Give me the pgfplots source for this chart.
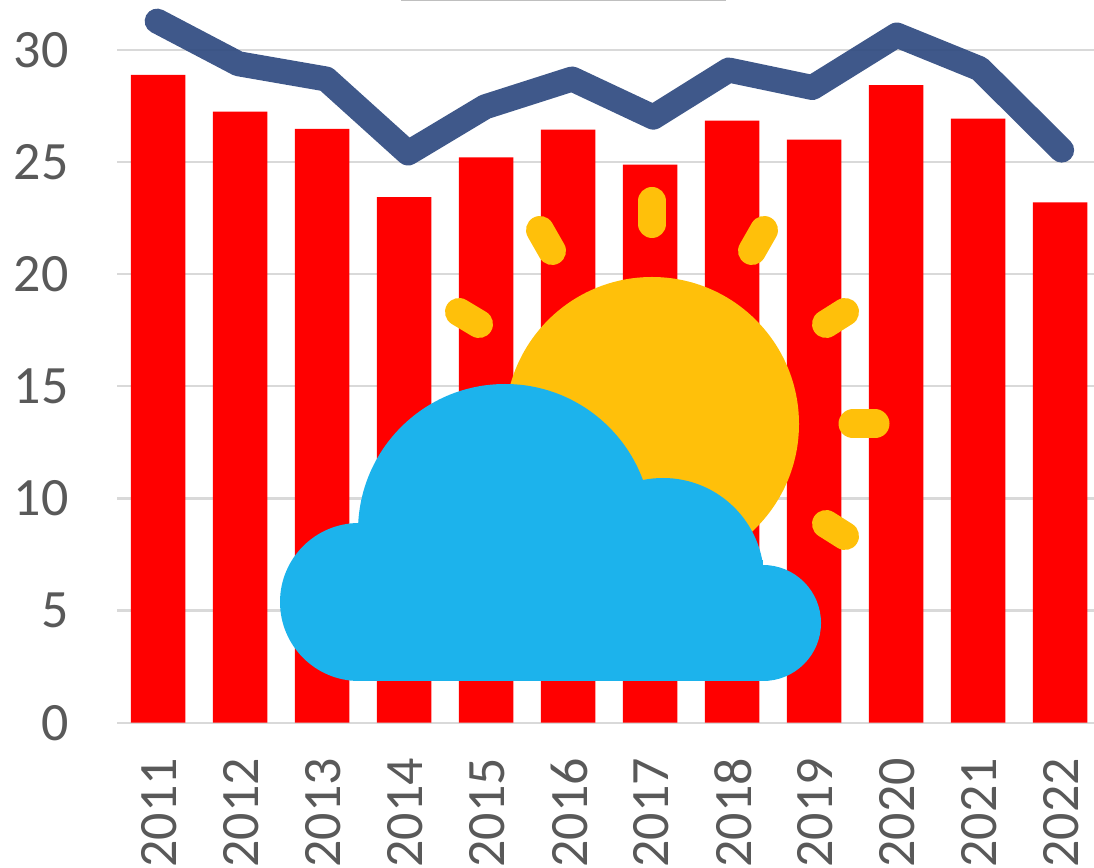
\documentclass[border=0pt]{standalone}
\usepackage{pgfplots}
\pgfplotsset{compat=1.18}
\usepackage{fontspec}
\setmainfont{Carlito}
\definecolor{ticktext}{HTML}{595959}
\definecolor{gridc}{HTML}{D9D9D9}
\definecolor{linec}{HTML}{2F4A80}
\definecolor{sun}{HTML}{FFC00A}
\definecolor{cloud}{HTML}{1CB3EC}
\begin{document}
\begin{tikzpicture}
\path[use as bounding box,clip] (0,0) rectangle (1094pt,867pt);
\begin{axis}[
  at={(117pt,144.3pt)}, anchor=south west,
  scale only axis, width=984pt, height=722.2pt,
  xmin=-0.5, xmax=11.5, ymin=0, ymax=32.2,
  clip=false,
  axis x line=bottom, axis y line=left,
  axis line style={-, draw=gridc, line width=2.2pt},
  y axis line style={draw=none},
  xtick={0,...,11},
  xticklabels={2011,2012,2013,2014,2015,2016,2017,2018,2019,2020,2021,2022},
  ytick={0,5,10,15,20,25,30},
  major tick length=0pt,
  ymajorgrids,
  grid style={draw=gridc, line width=2.2pt},
  tick label style={font=\fontsize{54}{60}\selectfont, text=ticktext},
  /pgf/number format/assume math mode=true,
  yticklabel style={anchor=east, xshift=-45pt},
  xticklabel style={rotate=90, anchor=east, xshift=-32pt, yshift=-1pt},
]
\addplot[ybar, bar width=54.5pt, fill=red, draw=none] coordinates {
 (0,28.88) (1,27.24) (2,26.48) (3,23.43) (4,25.2) (5,26.44)
 (6,24.88) (7,26.84) (8,26.0) (9,28.43) (10,26.93) (11,23.2)};
\addplot[sharp plot, color=linec, opacity=0.92, line width=25pt, line cap=round, line join=round] coordinates {
 (-0.01,31.28) (0.98,29.38) (2.05,28.7) (3.05,25.4) (3.99,27.46) (5.05,28.7)
 (6.04,27.0) (6.96,29.1) (7.98,28.32) (9.01,30.66) (10.02,29.16) (11.02,25.53)};
\end{axis}
\begin{scope}[x=1pt,y=-1pt,shift={(0,867pt)}]
  \fill[color=black!25] (401,0) rectangle (726,1.5);
  % sun
  \fill[sun] (652,424) circle[radius=147];
  \begin{scope}[draw=sun,line cap=round]
    \draw[line width=28pt] (652,201) -- (652,224);
    \draw[line width=28pt] (540,230) -- (552,251);
    \draw[line width=28pt] (764,230) -- (752,251);
    \draw[line width=28pt] (459,312) -- (479,324);
    \draw[line width=28pt] (845,312) -- (826,324);
    \draw[line width=29pt] (853,424) -- (875,424);
    \draw[line width=28pt] (826,524) -- (845,536);
  \end{scope}
  % cloud
  \fill[cloud] (359,602) circle[radius=79];
  \fill[cloud] (505,531) circle[radius=147];
  \fill[cloud] (663,579) circle[radius=101];
  \fill[cloud] (763,623) circle[radius=58];
  \fill[cloud] (359,560) rectangle (763,681);
\end{scope}
\end{tikzpicture}
\end{document}
